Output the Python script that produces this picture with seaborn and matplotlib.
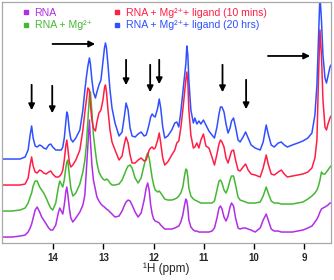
import numpy as np
import pandas as pd
import seaborn as sns
import matplotlib
matplotlib.use('Agg')
import matplotlib.pyplot as plt
from matplotlib.lines import Line2D

# chemical shift grid (ppm), shared by all four spectra
ppm = [15.02, 14.82, 14.66, 14.56, 14.50, 14.46, 14.43, 14.40, 14.36, 14.32,
       14.27, 14.23, 14.19, 14.14, 14.09, 14.05, 14.01, 13.95, 13.90, 13.87,
       13.84, 13.81, 13.78, 13.75, 13.73, 13.71, 13.68, 13.65, 13.61, 13.55,
       13.47, 13.41, 13.37, 13.34, 13.31, 13.28, 13.26, 13.23, 13.20, 13.16,
       13.13, 13.09, 13.05, 13.01, 12.98, 12.96, 12.94, 12.91, 12.87, 12.83,
       12.77, 12.69, 12.63, 12.58, 12.55, 12.51, 12.47, 12.43, 12.37, 12.31,
       12.25, 12.19, 12.15, 12.12, 12.09, 12.06, 12.03, 12.00, 11.97, 11.92,
       11.89, 11.86, 11.82, 11.78, 11.72, 11.64, 11.58, 11.54, 11.50, 11.46,
       11.42, 11.39, 11.36, 11.34, 11.32, 11.30, 11.26, 11.21, 11.18, 11.14,
       11.10, 11.06, 11.01, 10.96, 10.90, 10.84, 10.79, 10.74, 10.70, 10.67,
       10.64, 10.60, 10.56, 10.52, 10.48, 10.45, 10.41, 10.37, 10.32, 10.28,
       10.22, 10.17, 10.12, 10.06, 9.98, 9.88, 9.82, 9.76, 9.72, 9.66,
       9.60, 9.52, 9.46, 9.40, 9.34, 9.24, 9.13, 9.03, 8.93, 8.85,
       8.79, 8.75, 8.72, 8.69, 8.66, 8.63, 8.59, 8.56, 8.53, 8.49,
       8.47]

# intensities (arb. units, above each trace's own baseline)
rna = [0, 0, 1, 2, 5, 9, 13, 19, 27, 30,
       25, 20, 17, 13, 9, 7, 7, 12, 24, 29,
       26, 23, 32, 45, 50, 43, 29, 19, 15, 19,
       25, 32, 42, 67, 92, 117, 97, 72, 57, 47,
       40, 36, 33, 31, 30, 29, 28, 27, 25, 23,
       20, 21, 26, 32, 35, 37, 36, 32, 25, 20,
       24, 37, 49, 54, 47, 32, 23, 18, 16, 15,
       14, 12, 10, 8, 8, 8, 9, 10, 11, 15,
       22, 31, 38, 36, 29, 17, 10, 7, 6, 6,
       5, 5, 5, 5, 5, 6, 9, 19, 29, 31,
       28, 20, 16, 21, 30, 34, 31, 19, 9, 8,
       9, 9, 8, 7, 5, 9, 17, 23, 17, 8,
       6, 6, 5, 5, 5, 5, 6, 7, 9, 11,
       15, 18, 21, 25, 28, 29, 30, 31, 32, 34,
       34]

rna_mg = [0, 0, 1, 3, 8, 14, 18, 25, 30, 30,
          24, 21, 18, 13, 7, 3, 1, 8, 23, 30,
          27, 24, 31, 43, 49, 51, 36, 23, 15, 18,
          27, 39, 51, 66, 91, 115, 119, 99, 76, 59,
          48, 39, 35, 32, 31, 31, 32, 31, 28, 26,
          26, 27, 31, 37, 41, 45, 46, 43, 33, 28,
          33, 46, 54, 58, 53, 43, 33, 26, 21, 19,
          20, 18, 15, 12, 11, 11, 12, 13, 15, 18,
          24, 34, 42, 41, 34, 23, 15, 12, 11, 10,
          9, 8, 8, 8, 8, 8, 10, 21, 30, 31,
          28, 21, 18, 23, 31, 35, 35, 26, 14, 11,
          10, 9, 8, 8, 8, 9, 15, 24, 18, 10,
          8, 8, 7, 7, 7, 7, 8, 9, 12, 15,
          18, 21, 25, 31, 39, 37, 37, 39, 41, 44,
          45]

lig_10min = [0, 0, 0, 1, 7, 20, 28, 19, 13, 12,
             15, 14, 12, 11, 13, 14, 11, 8, 8, 9,
             11, 15, 25, 39, 45, 37, 23, 18, 20, 25,
             35, 55, 73, 85, 97, 95, 80, 65, 57, 54,
             63, 72, 75, 85, 97, 100, 93, 75, 55, 43,
             35, 25, 29, 42, 48, 42, 30, 22, 22, 25,
             27, 24, 25, 30, 35, 37, 38, 36, 37, 45,
             52, 42, 27, 20, 23, 30, 35, 42, 44, 57,
             75, 90, 105, 113, 103, 75, 50, 37, 38, 42,
             37, 45, 51, 39, 37, 28, 20, 31, 41, 45,
             43, 38, 27, 22, 29, 34, 35, 25, 15, 14,
             18, 21, 15, 11, 10, 8, 17, 30, 21, 11,
             10, 13, 15, 11, 8, 9, 10, 11, 13, 17,
             27, 45, 105, 155, 130, 85, 58, 55, 61, 67,
             69]

lig_20hrs = [0, 0, 0, 2, 9, 24, 33, 21, 13, 12,
             14, 13, 11, 10, 14, 15, 12, 9, 9, 9,
             9, 12, 21, 37, 47, 44, 29, 20, 17, 21,
             29, 49, 69, 82, 93, 101, 95, 79, 67, 61,
             67, 74, 79, 97, 111, 116, 111, 94, 69, 51,
             36, 23, 27, 44, 56, 49, 31, 23, 22, 25,
             27, 23, 24, 29, 35, 42, 45, 43, 42, 51,
             60, 51, 32, 21, 23, 29, 36, 37, 32, 47,
             67, 81, 95, 113, 104, 79, 49, 36, 41, 35,
             38, 35, 39, 34, 28, 24, 21, 32, 45, 52,
             52, 47, 35, 26, 31, 38, 41, 32, 19, 17,
             22, 27, 21, 14, 11, 9, 17, 34, 25, 14,
             12, 16, 17, 14, 12, 14, 16, 18, 21, 26,
             44, 74, 119, 164, 139, 104, 81, 76, 83, 92,
             94]

labels = ['RNA', 'RNA + Mg²⁺',
          'RNA + Mg²⁺+ ligand (10 mins)', 'RNA + Mg²⁺+ ligand (20 hrs)']
colors = ['#b02ee6', '#45b833', '#ff1f45', '#3050ff']
offsets = [6, 32, 58, 84]

sns.set_style('white')
plt.rcParams['font.family'] = ['Liberation Sans', 'DejaVu Sans']

rows = []
for lab, vals, off in zip(labels, [rna, rna_mg, lig_10min, lig_20hrs], offsets):
    for p, v in zip(ppm, vals):
        rows.append({'ppm': p, 'y': v + off, 'sample': lab})
df = pd.DataFrame(rows)

fig = plt.figure(figsize=(3.34, 2.8), dpi=100)
ax = fig.add_axes([0.006, 0.132, 0.985, 0.861])

sns.lineplot(data=df, x='ppm', y='y', hue='sample', hue_order=labels,
             palette=colors, estimator=None, sort=False, lw=1.1,
             legend=False, ax=ax)

ax.set_xlim(15.02, 8.47)
ax.set_ylim(0, 241)
ax.set_xticks([14, 13, 12, 11, 10, 9])
ax.set_xticklabels(['14', '13', '12', '11', '10', '9'], fontweight='bold', fontsize=7)
ax.set_yticks([])
ax.set_ylabel('')
ax.set_xlabel('¹H (ppm)', fontsize=8.5)
ax.xaxis.set_label_coords(0.5, -0.08)
ax.tick_params(axis='x', direction='out', length=4, width=1, color='black', pad=3, bottom=True)
for s in ax.spines.values():
    s.set_color('#a8a8a8')
    s.set_linewidth(0.9)

# arrows marking the peaks
arrow = dict(arrowstyle='-|>', color='black', lw=1.3, mutation_scale=9)
for x, y0, y1 in [(14.43, 161, 130), (14.02, 160, 127), (12.55, 186, 155),
                  (12.07, 181, 148), (11.89, 186, 156), (10.63, 181, 148),
                  (10.16, 166, 131)]:
    ax.annotate('', xy=(x, y1), xytext=(x, y0), arrowprops=arrow)
ax.annotate('', xy=(13.11, 199), xytext=(14.07, 199), arrowprops=arrow)
ax.annotate('', xy=(8.83, 187), xytext=(9.78, 187), arrowprops=arrow)

handles = [Line2D([], [], marker='s', ls='', color=c, markersize=2.5) for c in colors]
leg = ax.legend(handles, labels, ncol=2, loc='upper left', bbox_to_anchor=(0.062, 0.975),
                frameon=False, fontsize=7.6, handlelength=0.7, handletextpad=0.45,
                columnspacing=2.1, labelspacing=0.22, borderaxespad=0, borderpad=0)
for t, c in zip(leg.get_texts(), colors):
    t.set_color(c)

fig.savefig('out.png', dpi=100)
